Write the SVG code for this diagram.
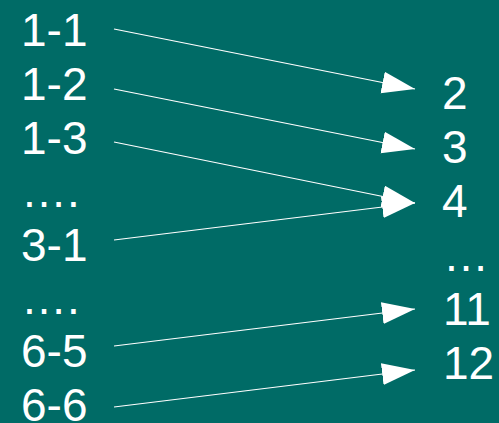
<svg xmlns="http://www.w3.org/2000/svg" width="499" height="423" viewBox="0 0 499 423">
<defs>
<style>
text{font-family:"Liberation Sans",Arial,sans-serif;font-size:46px;fill:#fff}
.c line{stroke:#fff;stroke-width:1.2;marker-end:url(#ah)}
</style>
<marker id="ah" markerUnits="userSpaceOnUse" markerWidth="34" markerHeight="23" refX="33" refY="11" orient="auto" viewBox="0 0 34 23">
<path d="M0,0 L33,11 L0,22 z" fill="#fff"/>
</marker>
</defs>
<rect width="499" height="423" fill="#006b66"/>
<g id="l11"><text x="21" y="46">1-1</text></g>
<g id="l12"><text x="21" y="100">1-2</text></g>
<g id="l13"><text x="21" y="154">1-3</text></g>
<g id="ld1"><text x="21" y="207">….</text></g>
<g id="l31"><text x="21" y="261">3-1</text></g>
<g id="ld2"><text x="21" y="314">….</text></g>
<g id="l65"><text x="21" y="367">6-5</text></g>
<g id="l66"><text x="21" y="421">6-6</text></g>
<g id="r2"><text x="442" y="109">2</text></g>
<g id="r3"><text x="442" y="163">3</text></g>
<g id="r4"><text x="442" y="217">4</text></g>
<g id="rd"><text x="443" y="271">…</text></g>
<g id="r11"><text x="443" y="325">11</text></g>
<g id="r12"><text x="443" y="379">12</text></g>
<g id="connectors" class="c">
<line x1="114" y1="29" x2="415" y2="89"/>
<line x1="114" y1="89" x2="415" y2="149"/>
<line x1="114" y1="142" x2="415" y2="203"/>
<line x1="114" y1="240" x2="415" y2="203"/>
<line x1="114" y1="346" x2="415" y2="309"/>
<line x1="114" y1="407" x2="415" y2="370"/>
</g>
</svg>
